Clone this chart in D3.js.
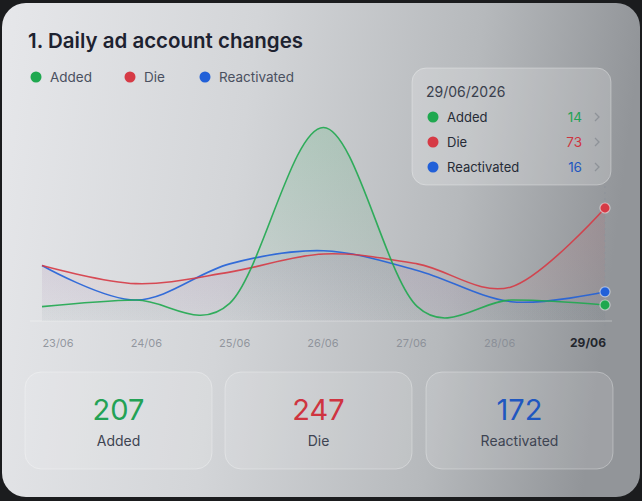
<!DOCTYPE html>
<html>
<head>
<meta charset="utf-8">
<script src="https://cdn.jsdelivr.net/npm/d3@7"></script>
<style>
  html, body { margin: 0; padding: 0; background: #1b1c1e; }
  svg { display: block; font-family: Inter, Roboto, "Noto Sans", sans-serif; }
</style>
</head>
<body>
<script>
// data
var dates = ["23/06", "24/06", "25/06", "26/06", "27/06", "28/06", "29/06"];
var added = [13, 17, 15, 122, 13, 17, 14];
var die = [38, 27, 34, 45, 39, 25, 73];
var reactivated = [38, 17, 39, 47, 35, 16, 22];

var seriesNames = ["Added", "Die", "Reactivated"];
var seriesColors = ["#1fa84f", "#d63a45", "#2160d8"];
var textColors = ["#23a255", "#cf3440", "#1f57c0"];

var tipDate = "29/06/2026";
var tipValues = [14, 73, 16];
var totals = [207, 247, 172];

var W = 642, H = 501;

var svg = d3.select("body").append("svg")
    .attr("width", W)
    .attr("height", H);

var defs = svg.append("defs");

// card background gradient
var bg = defs.append("linearGradient").attr("id", "bg")
    .attr("x1", "0").attr("y1", "0").attr("x2", "1").attr("y2", "0.1");
bg.append("stop").attr("offset", "0%").attr("stop-color", "#e6e7ea");
bg.append("stop").attr("offset", "40%").attr("stop-color", "#d3d5d8");
bg.append("stop").attr("offset", "75%").attr("stop-color", "#b6b9bc");
bg.append("stop").attr("offset", "100%").attr("stop-color", "#929599");

svg.append("rect")
    .attr("x", 2).attr("y", 3)
    .attr("width", 638).attr("height", 494)
    .attr("rx", 24)
    .attr("fill", "url(#bg)");

// title + legend
svg.append("text")
    .attr("x", 28).attr("y", 48)
    .attr("font-size", 20.5)
    .attr("font-weight", 600)
    .attr("fill", "#1d2230")
    .text("1. Daily ad account changes");

var legendX = [36, 130, 205];
var legend = svg.append("g").selectAll("g")
    .data(seriesNames)
    .enter().append("g")
    .attr("transform", function(d, i) { return "translate(" + legendX[i] + ",77)"; });
legend.append("circle")
    .attr("r", 5.5)
    .attr("fill", function(d, i) { return seriesColors[i]; });
legend.append("text")
    .attr("x", 14).attr("y", 4.5)
    .attr("font-size", 13.5)
    .attr("fill", "#4a5060")
    .text(function(d) { return d; });

// scales
var x = d3.scalePoint().domain(dates).range([42, 605]);
var xLabel = d3.scalePoint().domain(dates).range([58, 588]);
var y = d3.scaleLinear().domain([0, 125]).range([328, 122.5]);
var bottom = 321;

var allSeries = [added, die, reactivated];

// faint baseline
svg.append("line")
    .attr("x1", 30).attr("x2", 612)
    .attr("y1", bottom).attr("y2", bottom)
    .attr("stroke", "#ffffff").attr("stroke-opacity", 0.35);

// area gradients
seriesColors.forEach(function(c, i) {
  var g = defs.append("linearGradient").attr("id", "area" + i)
      .attr("gradientUnits", "userSpaceOnUse")
      .attr("x1", 0).attr("y1", 120).attr("x2", 0).attr("y2", bottom);
  g.append("stop").attr("offset", "0%").attr("stop-color", c).attr("stop-opacity", 0.16);
  g.append("stop").attr("offset", "100%").attr("stop-color", c).attr("stop-opacity", 0.02);
});

var curve = d3.curveCardinal.tension(0);

var area = d3.area()
    .x(function(d, i) { return x(dates[i]); })
    .y0(bottom)
    .y1(function(d) { return Math.min(y(d), bottom); })
    .curve(curve);

var line = d3.line()
    .x(function(d, i) { return x(dates[i]); })
    .y(function(d) { return y(d); })
    .curve(curve);

var drawOrder = [2, 1, 0];

svg.append("g").selectAll("path")
    .data(drawOrder)
    .enter().append("path")
    .attr("d", function(k) { return area(allSeries[k]); })
    .attr("fill", function(k) { return "url(#area" + k + ")"; });

svg.append("g").selectAll("path")
    .data(drawOrder)
    .enter().append("path")
    .attr("d", function(k) { return line(allSeries[k]); })
    .attr("fill", "none")
    .attr("stroke", function(k) { return seriesColors[k]; })
    .attr("stroke-width", 1.6)
    .attr("stroke-opacity", 0.9);

// hover line on last day
var lastDay = dates[dates.length - 1];
svg.append("line")
    .attr("x1", x(lastDay)).attr("x2", x(lastDay))
    .attr("y1", 186).attr("y2", 334)
    .attr("stroke", "#8f949b")
    .attr("stroke-width", 1.2)
    .attr("stroke-dasharray", "2,4");

svg.append("g").selectAll("circle")
    .data(drawOrder)
    .enter().append("circle")
    .attr("cx", x(lastDay))
    .attr("cy", function(k) { return y(allSeries[k][dates.length - 1]); })
    .attr("r", 5)
    .attr("fill", function(k) { return seriesColors[k]; })
    .attr("stroke", "#ffffff")
    .attr("stroke-opacity", 0.5)
    .attr("stroke-width", 1.2);

// x axis labels
svg.append("g").selectAll("text")
    .data(dates)
    .enter().append("text")
    .attr("x", function(d) { return xLabel(d); })
    .attr("y", 347)
    .attr("text-anchor", "middle")
    .attr("font-size", function(d) { return d === lastDay ? 12 : 11; })
    .attr("font-weight", function(d) { return d === lastDay ? 700 : 400; })
    .attr("fill", function(d) { return d === lastDay ? "#23262d" : "#858a93"; })
    .attr("fill-opacity", function(d) { return d === lastDay ? 1 : 0.85; })
    .text(function(d) { return d; });

// tooltip box
var tip = svg.append("g").attr("transform", "translate(412,68)");
tip.append("rect")
    .attr("width", 199).attr("height", 117)
    .attr("rx", 14)
    .attr("fill", "#ffffff").attr("fill-opacity", 0.2)
    .attr("stroke", "#ffffff").attr("stroke-opacity", 0.3);
tip.append("text")
    .attr("x", 14).attr("y", 29)
    .attr("font-size", 14)
    .attr("fill", "#3a404d")
    .text(tipDate);
var rows = tip.selectAll("g.row")
    .data(seriesNames)
    .enter().append("g")
    .attr("class", "row")
    .attr("transform", function(d, i) { return "translate(0," + (49 + i * 25) + ")"; });
rows.append("circle")
    .attr("cx", 21).attr("r", 5.5)
    .attr("fill", function(d, i) { return seriesColors[i]; });
rows.append("text")
    .attr("x", 35).attr("y", 4.5)
    .attr("font-size", 13)
    .attr("fill", "#262b36")
    .text(function(d) { return d; });
rows.append("text")
    .attr("x", 170).attr("y", 5)
    .attr("text-anchor", "end")
    .attr("font-size", 13.5)
    .attr("fill", function(d, i) { return textColors[i]; })
    .text(function(d, i) { return tipValues[i]; });
rows.append("path")
    .attr("d", "M183,-4 L187,0 L183,4")
    .attr("fill", "none")
    .attr("stroke", "#8e9298")
    .attr("stroke-width", 1.3);

// summary cards
var cardX = [25, 225, 426];
var cards = svg.append("g").selectAll("g")
    .data(seriesNames)
    .enter().append("g")
    .attr("transform", function(d, i) { return "translate(" + cardX[i] + ",372)"; });
cards.append("rect")
    .attr("width", 187).attr("height", 97)
    .attr("rx", 16)
    .attr("fill", "#ffffff").attr("fill-opacity", 0.12)
    .attr("stroke", "#ffffff").attr("stroke-opacity", 0.3);
cards.append("text")
    .attr("x", 93.5).attr("y", 48)
    .attr("text-anchor", "middle")
    .attr("font-size", 29)
    .attr("fill", function(d, i) { return textColors[i]; })
    .text(function(d, i) { return totals[i]; });
cards.append("text")
    .attr("x", 93.5).attr("y", 74)
    .attr("text-anchor", "middle")
    .attr("font-size", 14)
    .attr("fill", "#3e4452")
    .text(function(d) { return d; });
</script>
</body>
</html>
